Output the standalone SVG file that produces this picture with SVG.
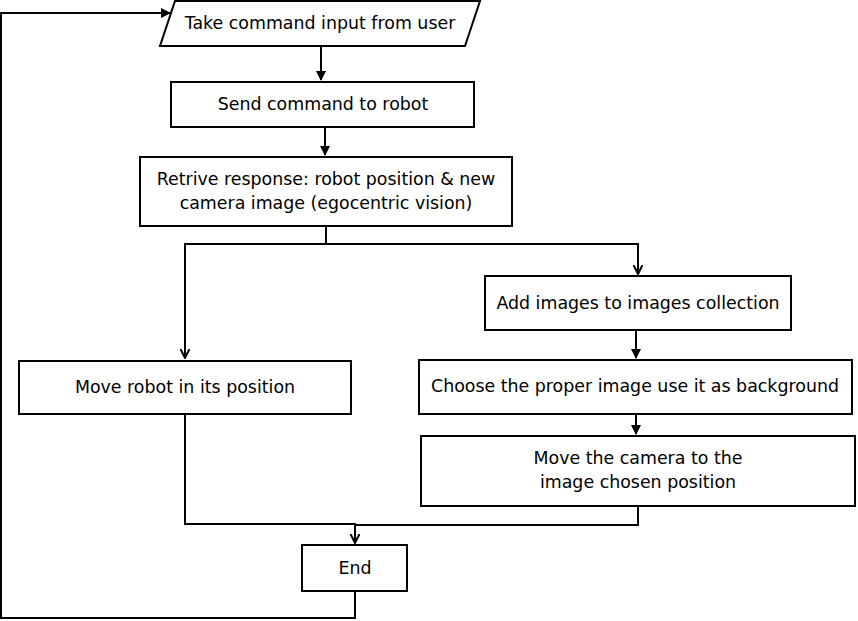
<svg xmlns="http://www.w3.org/2000/svg" width="858" height="621" viewBox="0 0 858 621">
<defs>
<style>
.n{fill:#fff;stroke:#000;stroke-width:2}
.t{font-family:"DejaVu Sans","Liberation Sans",sans-serif;font-size:17.4px;fill:#000;text-anchor:middle}
.c{fill:none;stroke:#000;stroke-width:2}
</style>
<marker id="fa" viewBox="0 0 10 10" refX="9" refY="5" markerWidth="10" markerHeight="10" markerUnits="userSpaceOnUse" orient="auto">
<path d="M0,0 L10,5 L0,10 Z" fill="#000"/>
</marker>
<marker id="oa" viewBox="0 0 10 10" refX="9" refY="5" markerWidth="10" markerHeight="10" markerUnits="userSpaceOnUse" orient="auto">
<path d="M0,0.5 L9,5 L0,9.5" fill="none" stroke="#000" stroke-width="2"/>
</marker>
</defs>
<rect width="858" height="621" fill="#fff"/>
<g id="connectors">
<path class="c" d="M321,46 V80" marker-end="url(#fa)"/>
<path class="c" d="M325,127 V155" marker-end="url(#fa)"/>
<path class="c" d="M326,226 V244 H185 V358" marker-end="url(#oa)"/>
<path class="c" d="M326,244 H638 V274" marker-end="url(#oa)"/>
<path class="c" d="M636,330 V358" marker-end="url(#fa)"/>
<path class="c" d="M636,414 V434" marker-end="url(#fa)"/>
<path class="c" d="M185,414 V524 H355 V543" marker-end="url(#oa)"/>
<path class="c" d="M638,506 V525 H355"/>
<path class="c" d="M355,591 V618 H1 V13 H170" marker-end="url(#fa)"/>
</g>
<g id="n1">
<polygon class="n" points="175,1 480,1 465,46 160,46"/>
<text class="t" x="320" y="29">Take command input from user</text>
</g>
<g id="n2">
<rect class="n" x="171" y="82" width="303" height="45"/>
<text class="t" x="323" y="110">Send command to robot</text>
</g>
<g id="n3">
<rect class="n" x="140" y="157" width="372" height="69"/>
<text class="t" x="326" y="185">Retrive response: robot position &amp; new</text>
<text class="t" x="326" y="209">camera image (egocentric vision)</text>
</g>
<g id="n4">
<rect class="n" x="485" y="276" width="306" height="54"/>
<text class="t" x="638" y="309">Add images to images collection</text>
</g>
<g id="n5">
<rect class="n" x="19" y="361" width="332" height="53"/>
<text class="t" x="185" y="393">Move robot in its position</text>
</g>
<g id="n6">
<rect class="n" x="419" y="360" width="433" height="54"/>
<text class="t" x="635" y="392">Choose the proper image use it as background</text>
</g>
<g id="n7">
<rect class="n" x="421" y="436" width="434" height="70"/>
<text class="t" x="638" y="464">Move the camera to the</text>
<text class="t" x="638" y="488">image chosen position</text>
</g>
<g id="n8">
<rect class="n" x="302" y="545" width="105" height="46"/>
<text class="t" x="355" y="574">End</text>
</g>
</svg>
